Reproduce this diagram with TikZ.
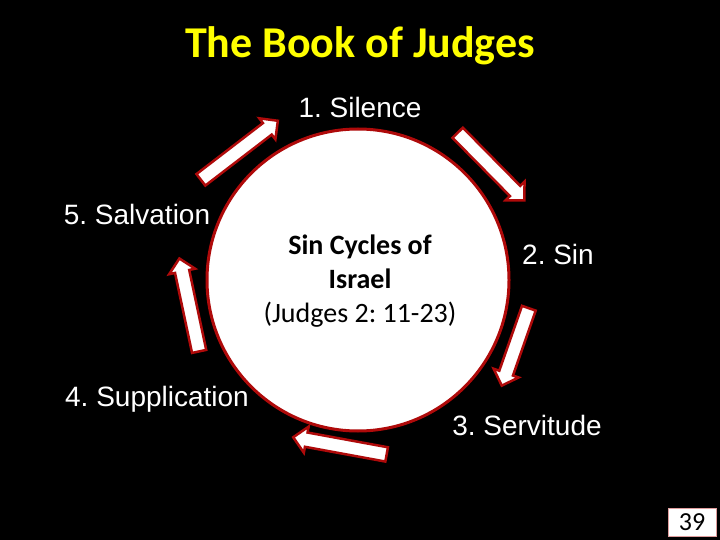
\documentclass[tikz,border=0pt]{standalone}
\usepackage{fontspec}
\setmainfont{Carlito}
\newfontfamily\arialfont{Liberation Sans}
\usepackage{tikz}
\usetikzlibrary{shapes}
\usetikzlibrary{shapes.arrows}
\frenchspacing
\definecolor{cyclered}{RGB}{175,10,10}
\definecolor{titleyellow}{RGB}{255,255,0}
\tikzstyle{blockarrow}= [draw=cyclered, line width=2.5pt, fill=white, single arrow,
  inner sep=6pt, single arrow head extend=6pt, single arrow head indent=0pt]
\tikzstyle{stage}= [text=white, font=\arialfont\fontsize{28}{32}\selectfont]

\begin{document}
\begin{tikzpicture}[
		x=1pt, y=-1pt,
    cycle/.style={
    circle,draw=cyclered,line width=3pt,fill=white,minimum size=302pt,inner sep=0pt,
    }
	]
  \fill[black] (0,0) rectangle (720,540);
  \useasboundingbox (0,0) rectangle (720,540);

  \node[text=titleyellow,font=\bfseries\fontsize{44}{50}\selectfont] (title) at (360,46) {The Book of Judges};

  \node[cycle] (sin cycle) at (358,280) {};
  \node[align=center,font=\fontsize{28}{34}\selectfont] (caption) at (360,281)
    {\textbf{Sin Cycles of}\\ \textbf{Israel}\\ (Judges 2: 11-23)};

  % the five stages
  \node[stage] (silence) at (360,107) {1. Silence};
  \node[stage] (sin) at (558,254) {2. Sin};
  \node[stage] (servitude) at (527,425) {3. Servitude};
  \node[stage] (supplication) at (157,399) {4. Supplication};
  \node[stage] (salvation) at (137,214) {5. Salvation};

  % arrows round the circle
  \node[blockarrow,minimum height=97pt,rotate=37.5] (a1) at (236.5,152.5) {};
  \node[blockarrow,minimum height=95pt,rotate=-45.4] (a2) at (488.5,164) {};
  \node[blockarrow,minimum height=82pt,rotate=-109.3] (a3) at (516.5,343.5) {};
  \node[blockarrow,minimum height=95pt,rotate=169.6] (a4) at (343.5,446.5) {};
  \node[blockarrow,minimum height=95pt,rotate=102] (a5) at (190,308.5) {};

  \node[draw=cyclered!40,fill=white,minimum width=48pt,minimum height=28pt,
    font=\fontsize{26}{28}\selectfont] (page) at (692,522) {39};
\end{tikzpicture}
\end{document}
